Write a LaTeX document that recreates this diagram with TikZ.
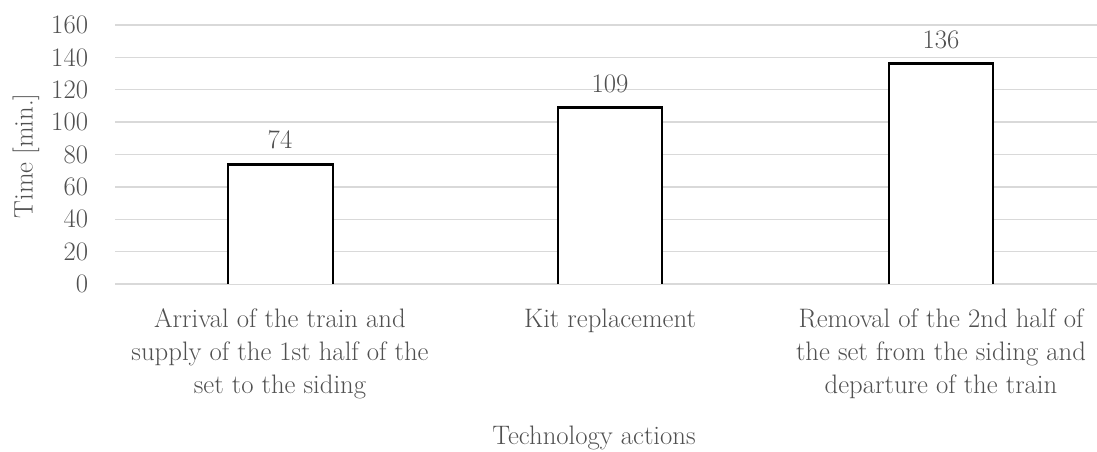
\documentclass[tikz,border=0pt]{standalone}
\definecolor{gridgray}{RGB}{217,217,217}
\definecolor{textgray}{RGB}{80,80,80}
\begin{document}
\begin{tikzpicture}[x=0.025cm, y=0.025cm,
    every node/.style={text=textgray, font=\fontsize{19}{23.5}\selectfont},
    bar/.style={draw=black, line width=2pt, fill=white}]
  \useasboundingbox (0,0) rectangle (1097,452);

        % 1) Grid lines and value ticks
        \foreach \v in {0,20,...,160} {
          \draw[gridgray, line width=1pt] (115,168+1.619*\v) -- (1097,168+1.619*\v);
          \node[anchor=east] (tick\v) at (93,168+1.619*\v) {\v};
        }

        % 2) Bars (open at the base line)
        \fill[white] (228,168) rectangle (333,168+1.619*74);
        \draw[bar] (228,168) |- (333,168+1.619*74) -- (333,168);
        \fill[white] (558,168) rectangle (662,168+1.619*109);
        \draw[bar] (558,168) |- (662,168+1.619*109) -- (662,168);
        \fill[white] (889,168) rectangle (993,168+1.619*136);
        \draw[bar] (889,168) |- (993,168+1.619*136) -- (993,168);

        % 3) Values above the bars
        \node[anchor=south] (val1) at (280,178+1.619*74) {74};
        \node[anchor=south] (val2) at (610,178+1.619*109) {109};
        \node[anchor=south] (val3) at (941,178+1.619*136) {136};

        % 4) Category labels
        \node[anchor=north, align=center] (cat1) at (280,148)
          {Arrival of the train and\\supply of the 1st half of the\\set to the siding};
        \node[anchor=north, align=center] (cat2) at (610,148) {Kit replacement};
        \node[anchor=north, align=center] (cat3) at (941,148)
          {Removal of the 2nd half of\\the set from the siding and\\departure of the train};

        % 5) Axis titles
        \node[rotate=90] (ytitle) at (26,296) {Time [min.]};
        \node (xtitle) at (594,14) {Technology actions};

\end{tikzpicture}
\end{document}
